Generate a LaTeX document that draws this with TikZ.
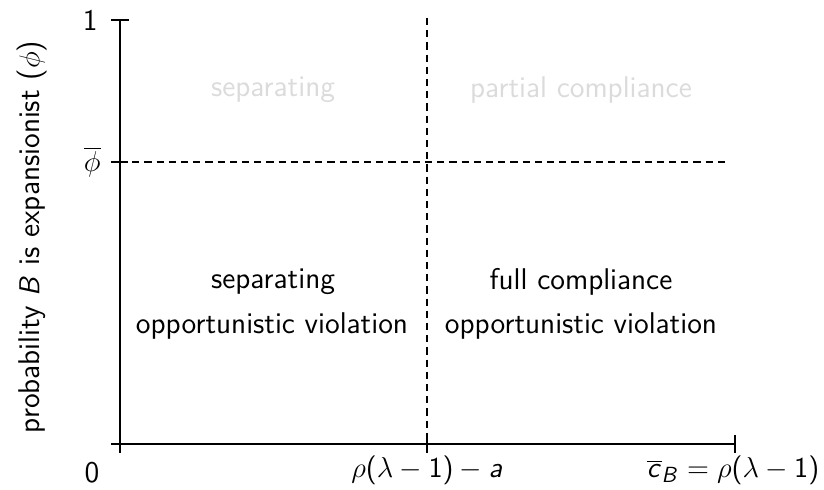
\documentclass[tikz,border=0pt]{standalone}
\DeclareSymbolFont{sfletters}{OT1}{cmss}{m}{sl}
\SetSymbolFont{operators}{normal}{OT1}{cmss}{m}{n}
\DeclareMathSymbol{a}{\mathalpha}{sfletters}{`a}
\DeclareMathSymbol{B}{\mathalpha}{sfletters}{`B}
\DeclareMathSymbol{c}{\mathalpha}{sfletters}{`c}
\begin{document}
\begin{tikzpicture}[x=0.5pt,y=-0.5pt,
  every node/.style={font=\sffamily\fontsize{15}{18}\selectfont, inner sep=0pt},
  axis/.style={line width=1pt},
  guide/.style={line width=0.75pt, dash pattern=on 3.6pt off 2.5pt},
  faded/.style={text=black!14},
  region/.style={text=black}]
\useasboundingbox (0,0) rectangle (824,489);
% coordinates
\coordinate (O) at (120,444);
\coordinate (ytop) at (120,20);
\coordinate (ybot) at (120,453);
\coordinate (xleft) at (111,444);
\coordinate (xright) at (735,444);
\coordinate (phiL) at (120,162);
\coordinate (phiR) at (730,162);
\coordinate (midtop) at (427,18);
\coordinate (midaxis) at (427,444);
% axes
\draw[axis] (ybot) -- (ytop);
\draw[axis] (xleft) -- (xright);
\draw[axis] ([xshift=-4.5pt]ytop) -- ([xshift=4.5pt]ytop);
\draw[axis] ([xshift=-4.5pt]phiL) -- ([xshift=4pt]phiL);
\draw[axis] ([yshift=4.3pt]xright) -- ([yshift=-4.3pt]xright);
\draw[axis] ([yshift=4.3pt]midaxis) -- ([yshift=-4.5pt]midaxis);
% guides
\draw[guide] (phiL) -- (phiR);
\draw[guide] (midtop) -- (midaxis);
% tick labels
\node[anchor=east] (one) at (98,20) {1};
\node[anchor=east] (phibar) at (101,162) {$\overline{\phi}$};
\node (zero) at (92,473) {0};
\node (xmid) at (427,470) {$\rho(\lambda-1)-a$};
\node (xmax) at (733,470) {$\overline{c}_B=\rho(\lambda-1)$};
% axis label
\node[rotate=90] (ylab) at (32,237) {probability $B$ is expansionist ($\phi$)};
% region labels
\node[faded] (sepTop) at (273,90) {separating};
\node[faded] (pcTop) at (581,90) {partial compliance};
\node[region] (sepLow) at (273,282) {separating};
\node[region] (ovLeft) at (272,326) {opportunistic violation};
\node[region] (fcLow) at (581,282) {full compliance};
\node[region] (ovRight) at (581,326) {opportunistic violation};
\end{tikzpicture}
\end{document}
